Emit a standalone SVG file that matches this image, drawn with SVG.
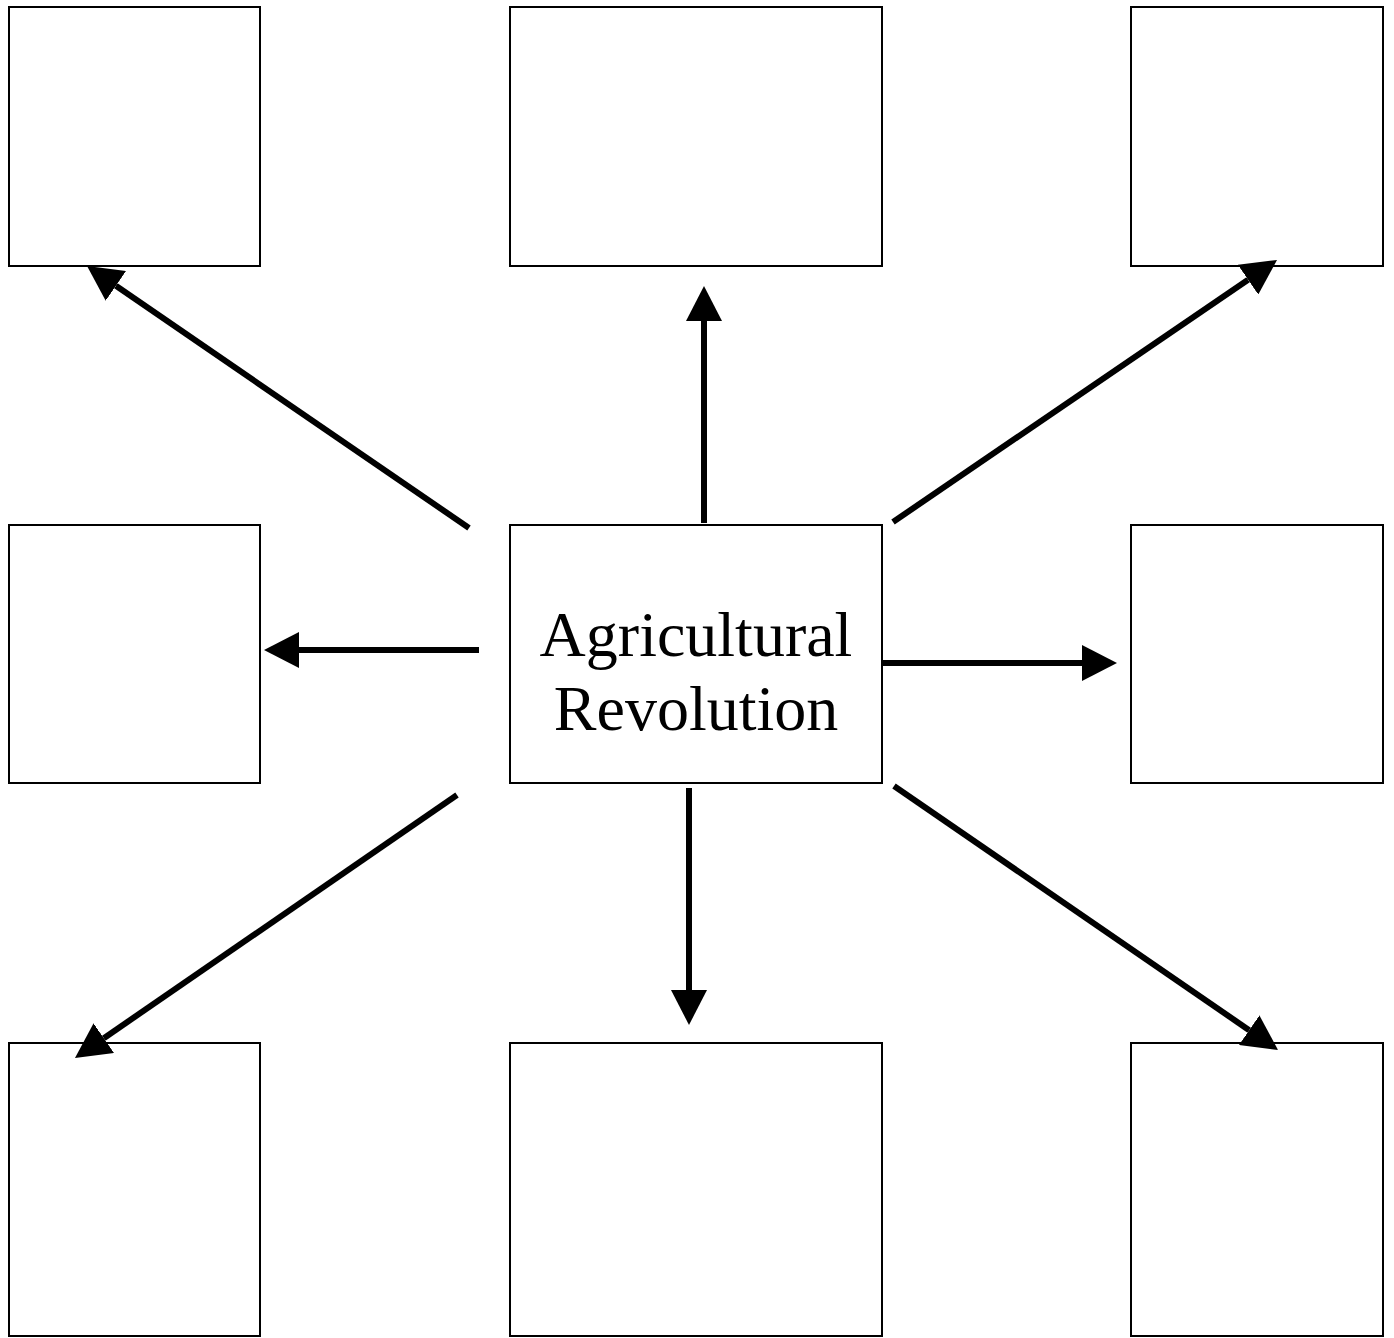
<svg xmlns="http://www.w3.org/2000/svg" width="1394" height="1338" viewBox="0 0 1394 1338">
  <style>
    .box { fill: #ffffff; stroke: #000000; stroke-width: 2; }
    .conn { stroke: #000000; stroke-width: 6; fill: none; marker-end: url(#head); }
    .label { font-family: "Liberation Serif", "Times New Roman", serif; font-size: 64px; fill: #000000; text-anchor: middle; }
  </style>
  <defs>
    <marker id="head" markerUnits="userSpaceOnUse" markerWidth="36" markerHeight="36" viewBox="0 0 36 36" refX="0" refY="18" orient="auto">
      <path d="M0,0 L35,18 L0,36 Z" fill="#000000"/>
    </marker>
  </defs>
  <rect width="1394" height="1338" fill="#ffffff"/>
  <g id="node-top-left"><rect class="box" x="9" y="7" width="251" height="259"/></g>
  <g id="node-top-middle"><rect class="box" x="510" y="7" width="372" height="259"/></g>
  <g id="node-top-right"><rect class="box" x="1131" y="7" width="252" height="259"/></g>
  <g id="node-middle-left"><rect class="box" x="9" y="525" width="251" height="258"/></g>
  <g id="node-center">
    <rect class="box" x="510" y="525" width="372" height="258"/>
    <text class="label" x="696" y="656">Agricultural</text>
    <text class="label" x="696" y="730">Revolution</text>
  </g>
  <g id="node-middle-right"><rect class="box" x="1131" y="525" width="252" height="258"/></g>
  <g id="node-bottom-left"><rect class="box" x="9" y="1043" width="251" height="293"/></g>
  <g id="node-bottom-middle"><rect class="box" x="510" y="1043" width="372" height="293"/></g>
  <g id="node-bottom-right"><rect class="box" x="1131" y="1043" width="252" height="293"/></g>
  <g id="connectors">
    <line class="conn" x1="704" y1="523" x2="704" y2="321"/>
    <line class="conn" x1="689" y1="788" x2="689" y2="990"/>
    <line class="conn" x1="479" y1="650" x2="299" y2="650"/>
    <line class="conn" x1="882" y1="663" x2="1082" y2="663"/>
    <line class="conn" x1="469" y1="528" x2="115.9" y2="285.8"/>
    <line class="conn" x1="893" y1="522" x2="1248.1" y2="279.7"/>
    <line class="conn" x1="457" y1="795" x2="103.8" y2="1038.2"/>
    <line class="conn" x1="894" y1="786" x2="1249.2" y2="1030.2"/>
  </g>
</svg>
